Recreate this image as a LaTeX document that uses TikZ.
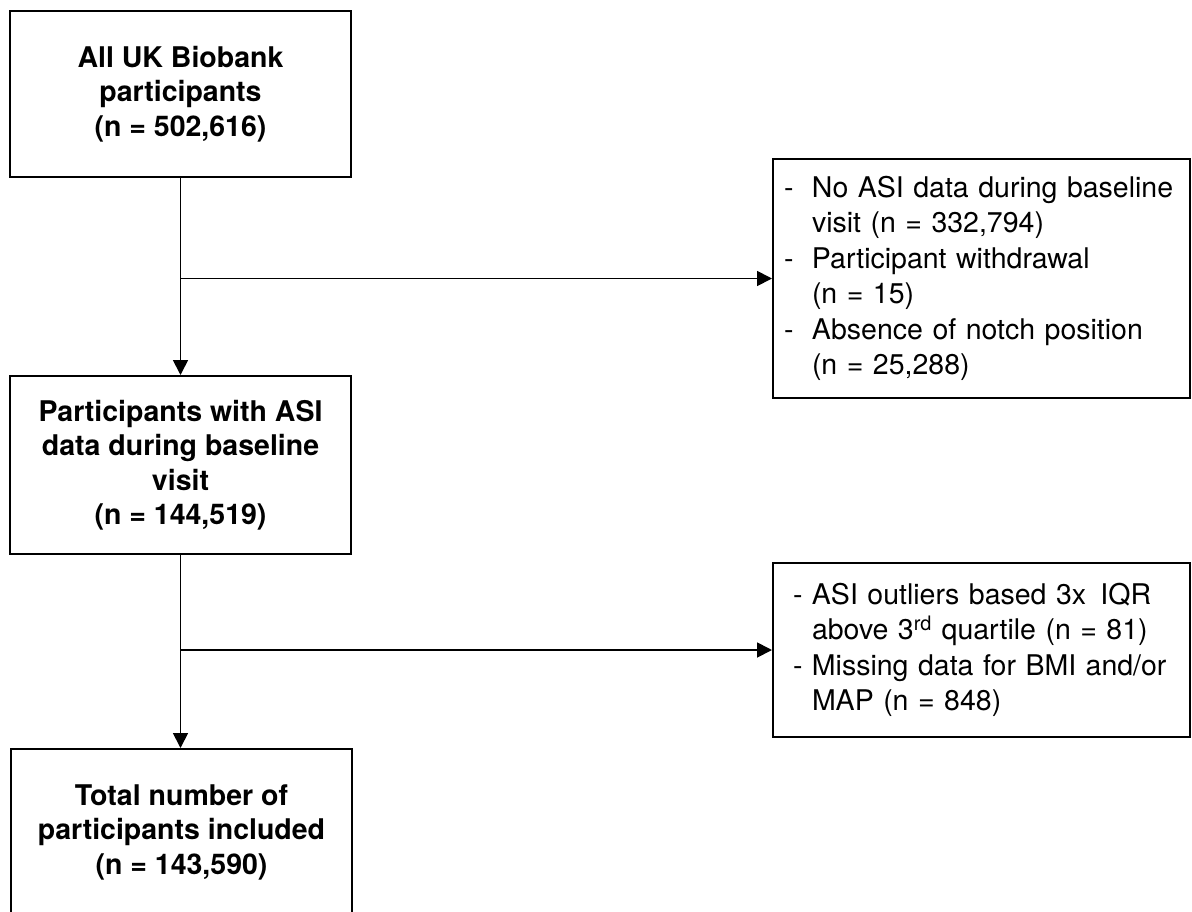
\documentclass[tikz,border=0pt]{standalone}
\usepackage{fontspec}
\setmainfont{TeX Gyre Heros}
\usetikzlibrary{arrows.meta}
\begin{document}
\begin{tikzpicture}[x=1pt,y=-1pt,
  box/.style={draw, line width=2pt, rectangle, inner sep=0pt},
  mainbox/.style={box, minimum width=341pt, align=center,
    font=\fontsize{28.5}{34.5}\selectfont\bfseries},
  sidebox/.style={box, minimum width=417pt, inner xsep=11pt, text width=395pt,
    align=left, font=\fontsize{28.5}{35.5}\selectfont},
  conn/.style={line width=1.8pt, -{Triangle[length=15pt,width=15pt]}},
]
\useasboundingbox (0,0) rectangle (1192,911);
\clip (0,0) rectangle (1192,911);
\fill[white] (0,0) rectangle (1192,911);

\node[mainbox, minimum height=166pt] (b1) at (180.5,94)
  {All UK Biobank\\participants\\(n = 502,616)};
\node[mainbox, minimum height=178pt] (b2) at (180.5,465)
  {Participants with ASI\\data during baseline\\visit\\(n = 144,519)};
\node[mainbox, minimum height=166pt] (b3) at (181.5,832)
  {Total number of\\participants included\\(n = 143,590)};

\node[sidebox, minimum height=239pt] (r1) at (981.5,278.5)
  {\makebox[28pt][l]{-}No ASI data during baseline\\
   \hspace*{28pt}visit (n = 332,794)\\
   \makebox[28pt][l]{-}Participant withdrawal\\
   \hspace*{28pt}(n = 15)\\
   \makebox[28pt][l]{-}Absence of notch position\\
   \hspace*{28pt}(n = 25,288)};
\node[sidebox, minimum height=174pt] (r2) at (981.5,650)
  {\hspace*{9pt}\makebox[19pt][l]{-}ASI outliers based 3x\, IQR\\
   \hspace*{28pt}above 3\textsuperscript{rd} quartile (n = 81)\\
   \hspace*{9pt}\makebox[19pt][l]{-}Missing data for BMI and/or\\
   \hspace*{28pt}MAP (n = 848)};

\draw[conn] (b1.south) -- (b1.south |- b2.north);
\draw[conn] (b1.south |- r1.west) -- (r1.west);
\draw[conn] (b2.south) -- (b2.south |- b3.north);
\draw[conn] (b2.south |- r2.west) -- (r2.west);
\end{tikzpicture}
\end{document}
